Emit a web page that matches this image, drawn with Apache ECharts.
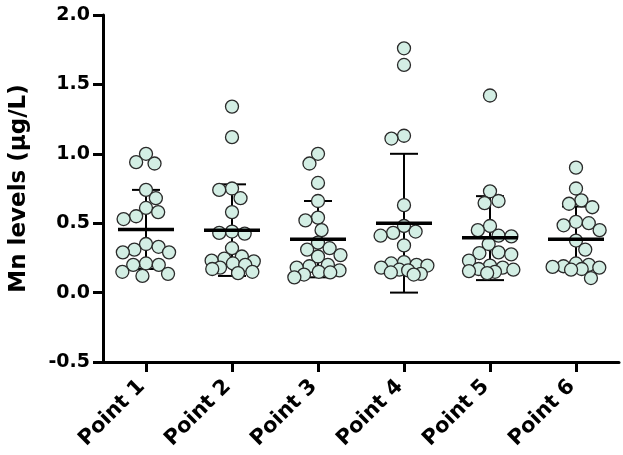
<!DOCTYPE html>
<html>
<head>
<meta charset="utf-8">
<script src="https://cdn.jsdelivr.net/npm/echarts@6/dist/echarts.min.js"></script>
<style>html,body{margin:0;padding:0;background:#fff;}#c{width:623px;height:455px;}</style>
</head>
<body>
<div id="c"></div>
<script>
const categories = ['Point 1','Point 2','Point 3','Point 4','Point 5','Point 6'];
const point1 = [1.00,0.94,0.93,0.74,0.68,0.61,0.58,0.55,0.53,0.35,0.33,0.31,0.29,0.29,0.21,0.20,0.20,0.15,0.135,0.12];
const point2 = [1.34,1.12,0.75,0.74,0.68,0.58,0.44,0.43,0.425,0.32,0.26,0.245,0.23,0.225,0.21,0.20,0.18,0.17,0.15,0.14];
const point3 = [1.00,0.93,0.79,0.66,0.54,0.52,0.45,0.36,0.32,0.31,0.27,0.26,0.20,0.19,0.18,0.16,0.15,0.145,0.13,0.11];
const point4 = [1.76,1.64,1.13,1.11,0.63,0.48,0.44,0.43,0.41,0.34,0.22,0.21,0.20,0.195,0.18,0.165,0.16,0.145,0.135,0.13];
const point5 = [1.42,0.73,0.66,0.645,0.48,0.45,0.41,0.405,0.35,0.29,0.285,0.275,0.23,0.195,0.18,0.17,0.165,0.155,0.15,0.14];
const point6 = [0.90,0.75,0.665,0.64,0.615,0.51,0.50,0.485,0.45,0.375,0.31,0.21,0.20,0.19,0.185,0.18,0.17,0.165,0.105];
const means = [0.455,0.45,0.385,0.50,0.395,0.385];
const sdHigh = [0.74,0.78,0.66,1.00,0.695,0.62];
const sdLow = [0.17,0.12,0.11,0.00,0.09,0.15];

const groups = [point1,point2,point3,point4,point5,point6];
const W = 623, H = 455;
const G = {left:97, right:4, top:15, bottom:93};
const xMin = 0.5, xMax = 6.5, yMin = -0.5, yMax = 2.0;
const pxPerX = (W - G.left - G.right) / (xMax - xMin);
const pxPerY = (H - G.top - G.bottom) / (yMax - yMin);

// beeswarm-style jitter (pixel units), limited width with overlap allowed when crowded
function swarm(values, maxHalf) {
  const order = values.map((v,i)=>i).sort((a,b)=>values[b]-values[a]);
  const placed = []; const offs = new Array(values.length).fill(0);
  let flip = 1;
  for (const i of order) {
    const y = values[i]*pxPerY;
    let chosen = null;
    for (let d = 13; d >= 3 && chosen === null; d -= 1) {
      const iv = [];
      for (const p of placed) {
        const dy = Math.abs(p.y - y);
        if (dy < d) { const w = Math.sqrt(d*d - dy*dy); iv.push([p.x-w, p.x+w]); }
      }
      const cands = [0];
      iv.forEach(([a,b])=>cands.push(a,b));
      cands.sort((a,b)=>(Math.abs(a)-Math.abs(b)) || (flip*(b-a)));
      for (const c of cands) {
        if (Math.abs(c) > maxHalf) continue;
        if (iv.every(([a,b]) => c <= a+1e-6 || c >= b-1e-6)) { chosen = c; break; }
      }
    }
    if (chosen === null) chosen = 0;
    flip = -flip;
    placed.push({x:chosen,y}); offs[i] = chosen;
  }
  return offs;
}

const scatterData = [];
groups.forEach((vals, gi) => {
  const offs = swarm(vals, 24);
  vals.forEach((v, k) => scatterData.push([gi + 1 + offs[k]/pxPerX, v]));
});
const barData = means.map((m,i)=>[i+1, m, sdLow[i], sdHigh[i]]);

const font = 'DejaVu Sans';
const chart = echarts.init(document.getElementById('c'), null, {renderer:'canvas'});
chart.setOption({
  backgroundColor:'#fff',
  animation:false,
  grid:{left:G.left, right:G.right, top:G.top, bottom:G.bottom},
  xAxis:{
    type:'value', min:xMin, max:xMax,
    splitLine:{show:false},
    axisLine:{onZero:false, lineStyle:{color:'#000', width:3}},
    axisTick:{show:true, customValues:[1,2,3,4,5,6], length:10, lineStyle:{color:'#000', width:3}},
    axisLabel:{customValues:[1,2,3,4,5,6], rotate:45, margin:17, padding:[0,6,0,0], color:'#000', fontFamily:font, fontWeight:'bold', fontSize:21,
      formatter:(v)=>categories[Math.round(v)-1]}
  },
  yAxis:{
    type:'value', min:yMin, max:yMax, interval:0.5,
    splitLine:{show:false},
    axisLine:{onZero:false, lineStyle:{color:'#000', width:3}},
    axisTick:{length:10, lineStyle:{color:'#000', width:3}},
    axisLabel:{margin:13, color:'#000', fontFamily:font, fontWeight:'bold', fontSize:19,
      formatter:(v)=>v.toFixed(1)},
    name:'Mn levels (\u03bcg/L)', nameLocation:'middle', nameGap:72,
    nameTextStyle:{color:'#000', fontFamily:font, fontWeight:'bold', fontSize:23}
  },
  series:[
    {
      type:'custom', z:1, data:barData,
      renderItem:(params, api)=>{
        const x = api.value(0);
        const top = api.coord([x, api.value(3)]);
        const bot = api.coord([x, api.value(2)]);
        const st = {stroke:'#000', lineWidth:2};
        return {type:'group', children:[
          {type:'line', shape:{x1:top[0], y1:top[1], x2:bot[0], y2:bot[1]}, style:st},
          {type:'line', shape:{x1:top[0]-14, y1:top[1], x2:top[0]+14, y2:top[1]}, style:st},
          {type:'line', shape:{x1:bot[0]-14, y1:bot[1], x2:bot[0]+14, y2:bot[1]}, style:st}
        ]};
      }
    },
    {
      type:'scatter', z:2, data:scatterData, symbol:'circle', symbolSize:13,
      itemStyle:{color:'#d3eee4', borderColor:'#2a2a2a', borderWidth:1.3, opacity:1}
    },
    {
      type:'custom', z:3, data:barData,
      renderItem:(params, api)=>{
        const p = api.coord([api.value(0), api.value(1)]);
        return {type:'line', shape:{x1:p[0]-28, y1:p[1], x2:p[0]+28, y2:p[1]}, style:{stroke:'#000', lineWidth:3.5}};
      }
    }
  ]
});
</script>
</body>
</html>
